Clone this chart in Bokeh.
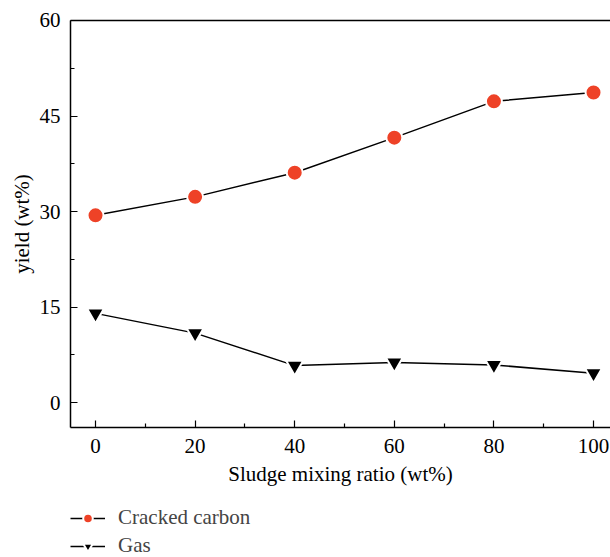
from bokeh.plotting import figure
from bokeh.models import FixedTicker, Legend, LegendItem, Range1d, LinearAxis
from bokeh.embed import file_html
from bokeh.resources import INLINE

ratio = [0, 20, 40, 60, 80, 100]
cracked_carbon = [29.4, 32.3, 36.1, 41.6, 47.3, 48.7]
gas = [14.0, 10.9, 5.8, 6.3, 5.9, 4.6]
x_ticks = [0, 20, 40, 60, 80, 100]
x_minor = [10, 30, 50, 70, 90]
y_ticks = [0, 15, 30, 45, 60]
y_minor = [7.5, 22.5, 37.5, 52.5]

FONT = "Liberation Serif"
RED = "#EE4227"

# axes box (data units)
X_LO, X_HI = -5.02, 103.41
Y_LO, Y_HI = -3.93, 60

p = figure(width=610, height=557, output_backend="svg", toolbar_location=None,
           x_range=Range1d(-19.08, 103.41), y_range=Range1d(-24.34, 63.14),
           min_border=0, x_axis_location=None, y_axis_location=None)
p.outline_line_color = None
p.grid.visible = False
p.background_fill_color = "white"
p.border_fill_color = "white"

l1 = p.line(ratio, cracked_carbon, line_color="black", line_width=1.5)
s1 = p.scatter(ratio, cracked_carbon, marker="circle", size=16, fill_color=RED,
               line_color="white", line_width=2)
l2 = p.line(ratio, gas, line_color="black", line_width=1.5)
s2 = p.scatter(ratio, gas, marker="inverted_triangle", size=17, fill_color="black",
               line_color="white", line_width=2)

xaxis = LinearAxis(fixed_location=Y_LO, bounds=(X_LO, X_HI),
                   ticker=FixedTicker(ticks=x_ticks, minor_ticks=x_minor),
                   axis_label="Sludge mixing ratio (wt%)")
yaxis = LinearAxis(fixed_location=X_LO, bounds=(Y_LO, Y_HI),
                   ticker=FixedTicker(ticks=y_ticks, minor_ticks=y_minor),
                   axis_label="yield (wt%)")
top = LinearAxis(fixed_location=Y_HI, bounds=(X_LO, X_HI),
                 ticker=FixedTicker(ticks=[], minor_ticks=[]),
                 major_tick_line_color=None, minor_tick_line_color=None,
                 major_label_text_font_size="0px",
                 axis_line_color="black", axis_line_width=1.5)

for ax in (xaxis, yaxis):
    ax.axis_line_color = "black"
    ax.axis_line_width = 1.5
    ax.major_tick_in = 7
    ax.major_tick_out = 0
    ax.minor_tick_in = 4
    ax.minor_tick_out = 0
    ax.major_tick_line_width = 1.2
    ax.minor_tick_line_width = 1.2
    ax.major_label_text_font = FONT
    ax.major_label_text_font_size = "21px"
    ax.major_label_text_color = "black"
    ax.axis_label_text_font = FONT
    ax.axis_label_text_font_size = "21px"
    ax.axis_label_text_font_style = "normal"
    ax.axis_label_text_color = "black"

xaxis.major_label_standoff = 11
xaxis.axis_label_standoff = 6
yaxis.major_label_standoff = 10
yaxis.axis_label_standoff = 3

p.add_layout(xaxis, "below")
p.add_layout(yaxis, "left")
p.add_layout(top, "above")

legend = Legend(items=[LegendItem(label="Cracked carbon", renderers=[l1, s1]),
                       LegendItem(label="Gas", renderers=[l2, s2])],
                location=(70, -1), orientation="vertical",
                label_text_font=FONT, label_text_font_size="21px",
                glyph_width=35, glyph_height=24, label_height=24,
                label_standoff=13, spacing=3,
                padding=0, margin=0, border_line_color=None,
                background_fill_alpha=0)
p.add_layout(legend, "center")

open("out.html", "w").write(file_html(p, INLINE))
